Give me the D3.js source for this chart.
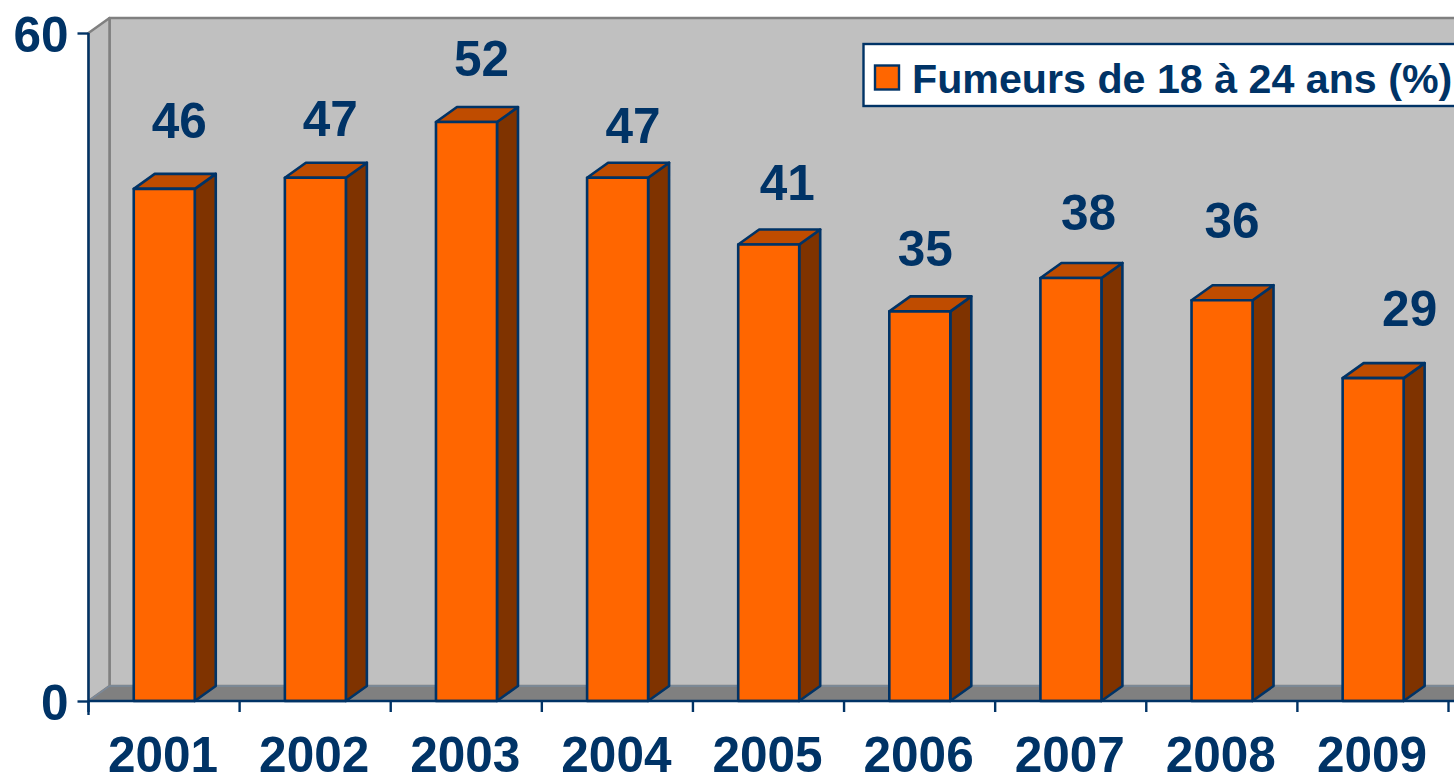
<!DOCTYPE html>
<html><head><meta charset="utf-8">
<script src="https://cdn.jsdelivr.net/npm/d3@7"></script>
<style>html,body{margin:0;padding:0;background:#fff;overflow:hidden}svg{display:block}
text{font-family:"Liberation Sans",Arial,sans-serif;font-weight:700;fill:#003366}</style>
</head><body><svg id="c" width="1454" height="774"></svg>
<script>
const years = ["2001","2002","2003","2004","2005","2006","2007","2008","2009"];
const smokers = [46,47,52,47,41,35,38,36,29];
const yTickValues = [0,60];
const seriesName = "Fumeurs de 18 à 24 ans (%)";
// hand-placed data label offsets in the original chart (px, relative to bar top-centre)
const labelDx = [15,15,15,15.5,18.5,5.5,17.5,10,36.5];
const labelDy = [-50.5,-41.5,-46,-34.5,-44.5,-45.5,-47.5,-62.5,-52.5];

const svg = d3.select("#c");
const navy="#003366", orange="#FF6600", topC="#BF4C00", sideC="#7F3300", wall="#C0C0C0", floor="#808080";
const depthX=21, depthY=-15;
const x = d3.scaleBand().domain(years).range([88.5,1448.5]).paddingInner(0).paddingOuter(0);
const y = d3.scaleLinear().domain([0,60]).range([701,33]);
const x0=x.range()[0], x1=1454+30, y0=y(0), yT=y(60);
const poly=(pts,fill,stroke,sw)=>svg.append("path").attr("d",d3.line()(pts)+"Z").attr("fill",fill).attr("stroke",stroke||"none").attr("stroke-width",sw||0).attr("stroke-linejoin","round");

// walls
poly([[x0+depthX,yT+depthY],[x1,yT+depthY],[x1,y0+depthY],[x0+depthX,y0+depthY]],wall,"#808080",2.5);
poly([[x0,yT],[x0+depthX,yT+depthY],[x0+depthX,y0+depthY],[x0,y0]],wall,"#808080",2.5);
poly([[x0,y0],[x0+depthX,y0+depthY],[x1,y0+depthY],[x1,y0]],floor,"#7a8a9c",1.5);

// bars
const barW=61;
const g=svg.selectAll("g.bar").data(years.map((d,i)=>({year:d,v:smokers[i],i}))).join("g").attr("class","bar");
g.each(function(d){
  const s=d3.select(this), l=x(d.year)+x.bandwidth()/2-barW/2+.2, r=l+barW, t=y(d.v), b=y0;
  const p=(pts,fill)=>s.append("path").attr("d",d3.line()(pts)+"Z").attr("fill",fill).attr("stroke",navy).attr("stroke-width",2.6).attr("stroke-linejoin","round");
  p([[r,t],[r+depthX,t+depthY],[r+depthX,b+depthY],[r,b]],sideC);
  p([[l,t],[l+depthX,t+depthY],[r+depthX,t+depthY],[r,t]],topC);
  p([[l,t],[r,t],[r,b],[l,b]],orange);
  s.append("text").attr("x",(l+r)/2+labelDx[d.i]).attr("y",t+labelDy[d.i]).attr("text-anchor","middle").attr("font-size",49.5).text(d.v);
});

// axes
const yAxis=d3.axisLeft(y).tickValues(yTickValues).tickSize(11).tickPadding(9).tickFormat(d3.format("d"));
const ya=svg.append("g").attr("transform",`translate(${x0},0)`).call(yAxis);
ya.selectAll("path").attr("d",`M0,${yT}V${y0+14}`).attr("stroke",navy).attr("stroke-width",2.4);
ya.selectAll("line").attr("stroke",navy).attr("stroke-width",2.4);
ya.selectAll("text").attr("font-size",49.5).attr("fill",navy).attr("dy",null).attr("y",18)
  .style("font-family",'"Liberation Sans",Arial,sans-serif').style("font-weight",700);

const xa=svg.append("g").attr("transform",`translate(0,${y0})`).call(d3.axisBottom(x).tickSize(0).tickPadding(0));
xa.select("path").attr("d",`M${x0},0H1454`).attr("stroke",navy).attr("stroke-width",2.4);
xa.selectAll("line").remove();
xa.selectAll("text").attr("font-size",49.5).attr("fill",navy).attr("dy",null).attr("y",70.5).attr("x",-1)
  .style("font-family",'"Liberation Sans",Arial,sans-serif').style("font-weight",700);
const tickPos=years.map(d=>x(d)).concat([x.range()[1]]);
xa.selectAll("line.sep").data(tickPos).join("line").attr("class","sep").attr("x1",d=>d).attr("x2",d=>d).attr("y1",0).attr("y2",11).attr("stroke",navy).attr("stroke-width",2.4);

// legend
svg.append("rect").attr("x",863.5).attr("y",44).attr("width",620).attr("height",62).attr("fill","#fff").attr("stroke",navy).attr("stroke-width",2.4);
svg.append("rect").attr("x",875).attr("y",65.5).attr("width",24).attr("height",24).attr("fill",orange).attr("stroke",navy).attr("stroke-width",2.4);
svg.append("text").attr("x",912).attr("y",92.5).attr("font-size",41.2).text(seriesName);
</script></body></html>
